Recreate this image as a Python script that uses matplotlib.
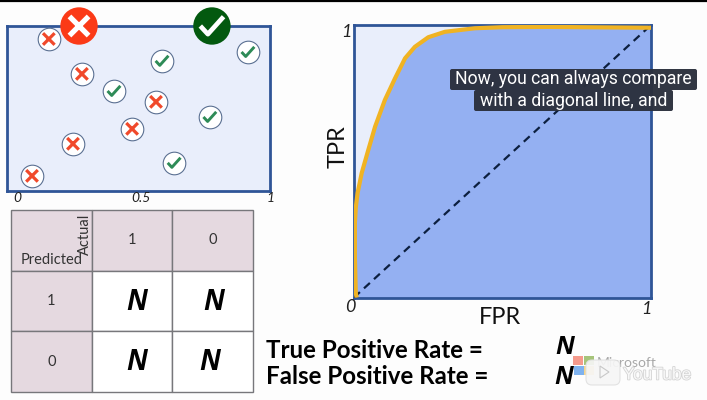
import matplotlib
matplotlib.use('Agg')
import matplotlib.pyplot as plt
import matplotlib.patheffects as pe
from matplotlib.path import Path
from matplotlib.patches import FancyBboxPatch, Rectangle, Polygon

W, H = 707, 400

# scatter panel, score on x, height is only for spreading the points
wrong_x = [0.158, 0.284, 0.566, 0.475, 0.25, 0.094]
wrong_y = [0.921, 0.709, 0.539, 0.375, 0.284, 0.089]
right_x = [0.589, 0.916, 0.406, 0.771, 0.635]
right_y = [0.788, 0.842, 0.605, 0.447, 0.168]
big_x = [0.273, 0.779]
panel_ticks = ['0', '0.5', '1']

# ROC curve
fpr = [0.009, 0.006, 0.003, 0.003, 0.006, 0.012, 0.026, 0.048, 0.071, 0.104, 0.138, 0.172, 0.205, 0.25, 0.306, 0.407, 0.5, 0.65, 1.0]
tpr = [0.0, 0.016, 0.149, 0.273, 0.33, 0.383, 0.457, 0.541, 0.627, 0.725, 0.804, 0.878, 0.92, 0.955, 0.975, 0.988, 0.992, 0.993, 0.99]

# confusion matrix
table_text = [['', '1', '0'], ['1', '', ''], ['0', '', '']]
count_labels = ['N', 'N', 'N', 'N']

caption = ['Now, you can always compare', 'with a diagonal line, and']
rate_labels = ['True Positive Rate =', 'False Positive Rate =']

X_MARK = Path([(-1, -1), (1, 1), (-1, 1), (1, -1)], [Path.MOVETO, Path.LINETO, Path.MOVETO, Path.LINETO])
CHECK_MARK = Path([(-1, 0), (-0.35, -0.7), (1, 0.8)], [Path.MOVETO, Path.LINETO, Path.LINETO])

RED = '#f0492b'
GREEN = '#2e8b57'
LABEL = ['Lato', 'DejaVu Sans']
HEAVY = ['Open Sans', 'DejaVu Sans']


def px_axes(fig, left, top, right, bottom):
    return fig.add_axes([left / W, 1 - bottom / H, (right - left) / W, (bottom - top) / H])


def draw_panel_axes(ax, face):
    ax.set_xlim(0, 1)
    ax.set_ylim(0, 1)
    ax.set_xticks([])
    ax.set_yticks([])
    ax.set_facecolor(face)
    for s in ax.spines.values():
        s.set_color('#2f5597')
        s.set_linewidth(2)


fig = plt.figure(figsize=(7.07, 4.0), dpi=100, facecolor='#fdfdfd')

# top left panel
ax1 = px_axes(fig, 7.3, 26, 270, 190.5)
draw_panel_axes(ax1, '#e9eefb')
ax1.scatter(wrong_x + right_x, wrong_y + right_y, s=265, c='white', edgecolors='#5b7092', linewidths=0.8, zorder=3)
ax1.scatter(wrong_x, wrong_y, s=70, marker=X_MARK, facecolors='none', edgecolors=RED, linewidths=2.3, zorder=4)
ax1.scatter(right_x, right_y, s=85, marker=CHECK_MARK, facecolors='none', edgecolors=GREEN, linewidths=2.1, zorder=4)
ax1.scatter(big_x, [1, 1], s=724, c=['#fb3a17', '#03590f'], linewidths=0, clip_on=False, zorder=5)
ax1.scatter(big_x[0], 1, s=190, marker=X_MARK, facecolors='none', edgecolors='white', linewidths=3.8, clip_on=False, zorder=6)
ax1.scatter(big_x[1], 1, s=280, marker=CHECK_MARK, facecolors='none', edgecolors='white', linewidths=3.4, clip_on=False, zorder=6)

# ROC panel
ax2 = px_axes(fig, 354, 25, 651, 297.5)
draw_panel_axes(ax2, '#e9eefb')
ax2.fill_between(fpr, tpr, 0, color='#94b0f2', lw=0, zorder=2)
ax2.plot([0, 1], [0, 1], color='#0c1f3f', lw=1.6, dashes=(3.6, 2.5), zorder=3)
ax2.plot(fpr, tpr, color='#f0b323', lw=3, zorder=4, solid_capstyle='butt', solid_joinstyle='round')

# confusion matrix
ax3 = px_axes(fig, 11, 210, 253, 392)
ax3.axis('off')
colours = [['#e5d9e0'] * 3, ['#e5d9e0', 'white', 'white'], ['#e5d9e0', 'white', 'white']]
tbl = ax3.table(cellText=table_text, cellColours=colours, cellLoc='center', bbox=[0, 0, 1, 1])
tbl.auto_set_font_size(False)
for (r, c), cell in tbl.get_celld().items():
    cell.set_edgecolor('#77777b')
    cell.set_linewidth(1.0)
    txt = cell.get_text()
    txt.set_fontsize(10.5)
    txt.set_color('#333333')
    txt.set_family(LABEL)

# everything else sits in page pixels
ov = fig.add_axes([0, 0, 1, 1], zorder=10)
ov.set_xlim(0, W)
ov.set_ylim(H, 0)
ov.axis('off')
ov.patch.set_alpha(0)

ov.plot([0, W], [0.5, 0.5], color='black', lw=1.6)

for x, label in zip([17, 141, 271], panel_ticks):
    ov.text(x, 198, label, style='italic', fontsize=10, ha='center', va='center', family=LABEL, color='#222222')
ov.text(346, 32, '1', style='italic', fontsize=13, ha='center', va='center', family=LABEL, color='#222222')
ov.text(350, 307, '0', style='italic', fontsize=13, ha='center', va='center', family=LABEL, color='#222222')
ov.text(646, 309, '1', style='italic', fontsize=13, ha='center', va='center', family=LABEL, color='#222222')
ov.text(338, 147, 'TPR', rotation=90, fontsize=17, ha='center', va='center', family=LABEL, color='#111111')
ov.text(500, 317, 'FPR', fontsize=17, ha='center', va='center', family=LABEL, color='#111111')

ov.text(52, 260, 'Predicted', fontsize=10.5, ha='center', va='center', family=LABEL, color='#333333')
ov.text(85, 234, 'Actual', rotation=90, fontsize=10.5, ha='center', va='center', family=LABEL, color='#333333')

for (x, y), label in zip([(137, 303), (214, 303), (137, 363), (210, 363)], count_labels):
    ov.text(x, y, label, fontsize=20, fontweight='bold', style='italic', ha='center', va='center',
            family=HEAVY, color='black')

for y, label in zip([350, 376], rate_labels):
    ov.text(266, y, label, fontsize=17.4, fontweight='bold', ha='left', va='center', family=LABEL, color='black')
for x, y in [(565, 348), (564, 377)]:
    ov.text(x, y, 'N', fontsize=18, fontweight='bold', style='italic', ha='center', va='center',
            family=HEAVY, color='black')

# caption boxes
for (x0, x1, y0, y1), line in zip([(450, 697, 69, 90), (474, 673, 90, 111)], caption):
    ov.add_patch(FancyBboxPatch((x0 + 2, y0 + 2), x1 - x0 - 4, y1 - y0 - 4, boxstyle='round,pad=2',
                                fc='#2b303d', ec='none', alpha=0.97, zorder=6))
    ov.text((x0 + x1) / 2, (y0 + y1) / 2, line, color='white', fontsize=12.7, ha='center', va='center',
            family=['Roboto', 'DejaVu Sans'], zorder=7)

# logo and watermark
for x, y, col in [(573, 356, '#f59a8c'), (584, 356, '#a6c47a'), (574, 366, '#7fb2ee'), (584, 366, '#f6d58a')]:
    ov.add_patch(Rectangle((x, y), 9.5, 9, fc=col, ec='none', zorder=4))
ov.text(597, 363, 'Microsoft', fontsize=10, color='#a8a8a8', ha='left', va='center', family=LABEL, zorder=4)
ov.add_patch(FancyBboxPatch((589, 363), 28, 19, boxstyle='round,pad=3,rounding_size=6', fc='#f6f6f6', ec='#e0e0e0',
                            lw=0.8, alpha=0.92, zorder=5))
ov.add_patch(Polygon([(600, 366), (600, 378), (609, 372)], closed=True, fc='none', ec='#c8c8c8', lw=0.8, zorder=6))
ov.text(623, 375, 'YouTube', fontsize=12.5, color='#f8f8f8', ha='left', va='center',
        family=['Liberation Sans', 'DejaVu Sans'], zorder=6,
        path_effects=[pe.withStroke(linewidth=1.2, foreground='#d4d4d4')])

fig.savefig('out.png', dpi=100, facecolor=fig.get_facecolor())
